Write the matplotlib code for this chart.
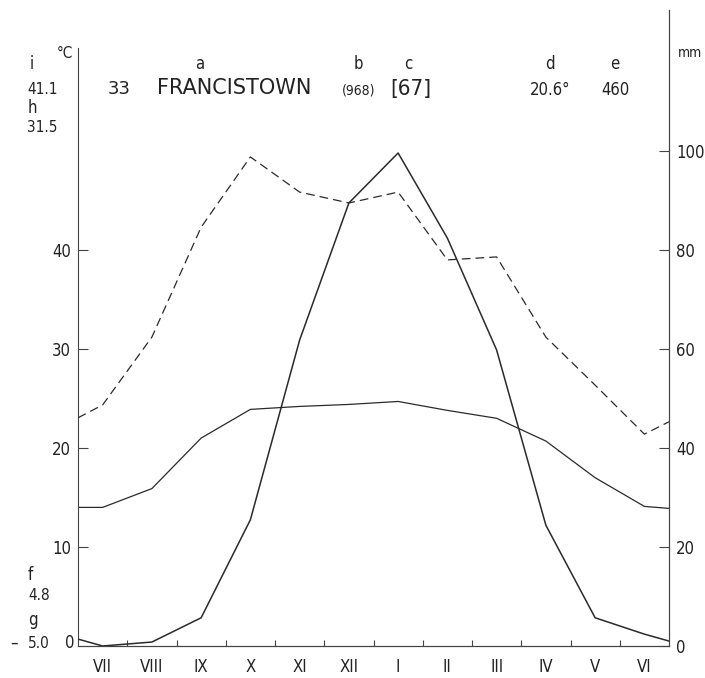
import matplotlib
matplotlib.use("Agg")
import matplotlib.pyplot as plt
import numpy as np

plt.rcParams['font.family'] = ['Liberation Sans Narrow', 'DejaVu Sans']
plt.rcParams['font.stretch'] = 'condensed'

# Walter-Lieth type diagram, Francistown
months = ["VII", "VIII", "IX", "X", "XI", "XII", "I", "II", "III", "IV", "V", "VI"]
temp = [14.0, 15.9, 21.0, 23.9, 24.2, 24.4, 24.7, 23.8, 23.0, 20.7, 17.0, 14.1]
temp_edges = [14.0, 13.9]
precip = [0.0, 0.8, 5.7, 25.5, 61.8, 89.5, 99.6, 82.4, 59.8, 24.4, 5.7, 2.4]
precip_edges = [1.4, 1.0]
dashed = [48.7, 62.4, 84.6, 98.8, 91.7, 89.5, 91.7, 78.0, 78.6, 62.4, 52.7, 42.8]
dashed_edges = [46.1, 45.3]

temp_ticks = [10, 20, 30, 40]
mm_ticks = [0, 20, 40, 60, 80, 100]

W, H = 705, 678
fig = plt.figure(figsize=(W / 100, H / 100), dpi=100)
left, right, bottom, top = 78, 669, 646, 10
ax = fig.add_axes([left / W, 1 - bottom / H, (right - left) / W, (bottom - top) / H])
ax2 = ax.twinx()

ymax = (bottom - top) / 9.9
ax.set_xlim(0, 12)
ax.set_ylim(0, ymax)
ax2.set_ylim(0, ymax * 2)

x = np.concatenate([[0], np.arange(12) + 0.5, [12]])
col = "#2a2a2a"

ax.plot(x, [temp_edges[0]] + temp + [temp_edges[1]], color=col, lw=0.9)
ax2.plot(x, [precip_edges[0]] + precip + [precip_edges[1]], color=col, lw=1.1)
ax2.plot(x, [dashed_edges[0]] + dashed + [dashed_edges[1]], color=col, lw=0.9,
         dashes=(7, 4))

ax.spines["top"].set_visible(False)
ax2.spines["top"].set_visible(False)
for a in (ax, ax2):
    for s in a.spines.values():
        s.set_color("#444444")
        s.set_linewidth(0.8)
# the left axis line stops lower than the right one
ax.spines["left"].set_bounds(0, (bottom - 48) / 9.9)
ax2.spines["left"].set_visible(False)

ax.set_yticks(temp_ticks)
ax.set_yticklabels([str(t) for t in temp_ticks])
ax.tick_params(axis="y", direction="in", length=7, width=0.8, colors="#444444",
               labelcolor="#222222", labelsize=12, pad=5)
ax2.set_yticks(mm_ticks)
ax2.set_yticklabels([str(t) for t in mm_ticks])
ax2.tick_params(axis="y", direction="in", length=7, width=0.8, colors="#444444",
                labelcolor="#222222", labelsize=12, pad=5)

ax.set_xticks(np.arange(1, 12))
ax.set_xticklabels([])
ax.tick_params(axis="x", direction="in", length=4, width=0.8, colors="#444444")
for i, m in enumerate(months):
    ax.annotate(m, (i + 0.5, 0), xycoords=("data", "axes fraction"),
                xytext=(0, -21), textcoords="offset pixels",
                ha="center", va="center", fontsize=12, color="#222222")


def ftext(px, py, s, size=12, ha="left", stretch="condensed"):
    fig.text(px / W, 1 - py / H, s, fontsize=size, ha=ha, va="center",
             color="#222222", fontstretch=stretch)


# left column
ftext(30, 64, "i")
ftext(57, 53, "°C", size=11)
ftext(27, 89, "41.1", size=11)
ftext(28, 108, "h")
ftext(27, 127, "31.5", size=11)
ftext(28, 575, "f")
ftext(28, 596, "4.8", size=11)
ftext(28, 620, "g")
ftext(10, 643, "–")
ftext(28, 643, "5.0", size=11)
ftext(65, 643, "0")

# header
ftext(200, 64, "a", ha="center")
ftext(358, 64, "b", ha="center")
ftext(408, 64, "c", ha="center")
ftext(550, 64, "d", ha="center")
ftext(615, 64, "e", ha="center")
ftext(119, 89, "33", size=13, ha="center", stretch="normal")
ftext(157, 88, "FRANCISTOWN", size=15, stretch="normal")
ftext(359, 90, "(968)", size=10, ha="center")
ftext(411, 89, "[67]", size=16, ha="center")
ftext(550, 90, "20.6°", size=12, ha="center")
ftext(615, 90, "460", size=12, ha="center")
ftext(678, 53, "mm", size=10)

fig.savefig("out.png", dpi=100)
